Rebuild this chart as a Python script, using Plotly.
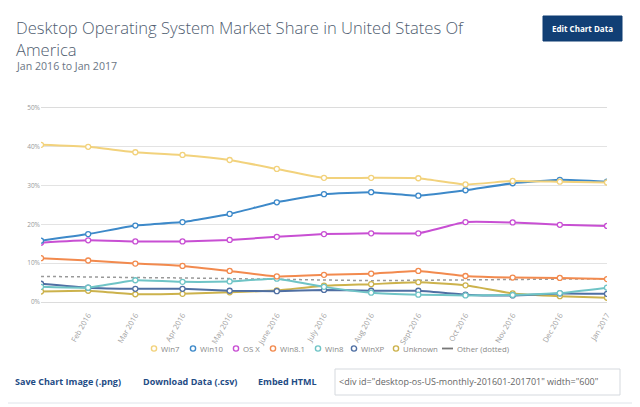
import plotly.graph_objects as go

months = ["Jan 2016", "Feb 2016", "Mar 2016", "Apr 2016", "May 2016", "June 2016", "July 2016",
          "Aug 2016", "Sept 2016", "Oct 2016", "Nov 2016", "Dec 2016", "Jan 2017"]
win7 = [40.5, 40.0, 38.6, 37.9, 36.6, 34.3, 32.0, 32.0, 31.9, 30.3, 31.2, 31.0, 30.8]
win10 = [15.8, 17.5, 19.7, 20.6, 22.7, 25.7, 27.8, 28.3, 27.4, 28.8, 30.6, 31.5, 31.0]
osx = [15.3, 15.9, 15.6, 15.6, 16.0, 16.8, 17.5, 17.7, 17.7, 20.6, 20.5, 19.9, 19.6]
win81 = [11.3, 10.7, 9.9, 9.3, 8.0, 6.6, 7.0, 7.3, 8.0, 6.7, 6.3, 6.2, 5.9]
win8 = [3.9, 3.7, 5.6, 5.2, 5.3, 6.0, 3.9, 2.4, 1.9, 1.7, 1.8, 2.3, 3.7]
winxp = [4.7, 3.7, 3.4, 3.4, 2.9, 2.8, 3.1, 2.9, 2.9, 1.9, 1.7, 2.2, 2.1]
unknown = [2.7, 2.9, 2.0, 2.1, 2.5, 3.0, 4.2, 4.6, 5.1, 4.3, 2.2, 1.5, 1.1]
other = [6.6, 6.4, 6.3, 6.2, 6.0, 5.8, 5.6, 5.5, 5.6, 5.7, 5.9, 6.0, 6.0]
y_ticks = [0, 10, 20, 30, 40, 50]
y_tick_labels = ["0%", "10%", "20%", "30%", "40%", "50%"]

series_names = ["Win7", "Win10", "OS X", "Win8.1", "Win8", "WinXP", "Unknown"]
series_values = [win7, win10, osx, win81, win8, winxp, unknown]
series_colors = ["#f2d27c", "#3d89c9", "#c84fd3", "#f28a4e", "#6fc4c6", "#4f6fa3", "#ccb24c"]
other_name = "Other (dotted)"
other_color = "#999999"

# page is rendered with an 8px body margin; figure is sized/positioned to compensate
OFF = 8
PW, PH = 640, 407
W, H = PW - OFF, PH - OFF
L, R, T, B = 41, 607, 108, 302  # plot area in page pixels


def px(x):
    return (x - L) / (R - L)


def py(y):
    return (B - y) / (B - T)


idx = list(range(len(months)))
fig = go.Figure()

fig.add_trace(go.Scatter(x=idx, y=other, mode="lines", name=other_name, showlegend=False,
                         line=dict(color=other_color, width=1.5, dash="dot")))
for name, vals, col in reversed(list(zip(series_names, series_values, series_colors))):
    fig.add_trace(go.Scatter(x=idx, y=vals, mode="lines+markers", name=name, showlegend=False,
                             line=dict(color=col, width=2, shape="spline", smoothing=0.4),
                             marker=dict(symbol="circle", size=5, color="white",
                                         line=dict(color=col, width=1.3))))

shapes = [
    dict(type="rect", xref="paper", yref="paper", x0=px(3), x1=px(636), y0=py(4), y1=py(403),
         line=dict(color="#dfe4ea", width=1), fillcolor="rgba(0,0,0,0)", layer="below"),
    dict(type="rect", xref="paper", yref="paper", x0=px(543), x1=px(622), y0=py(16), y1=py(41),
         line=dict(color="#0f3d73", width=1), fillcolor="#113f75"),
    dict(type="rect", xref="paper", yref="paper", x0=px(335), x1=px(620), y0=py(369), y1=py(395),
         line=dict(color="#d5d9de", width=1), fillcolor="white"),
]

annotations = [
    dict(text="Desktop Operating System Market Share in United States Of<br>America",
         x=px(14), y=py(13.5), xref="paper", yref="paper", xanchor="left", yanchor="top",
         align="left", showarrow=False,
         font=dict(family="Open Sans", size=16.6, color="#4f5d70", weight=300)),
    dict(text="Jan 2016 to Jan 2017", x=px(14), y=py(66), xref="paper", yref="paper",
         xanchor="left", yanchor="middle", showarrow=False,
         font=dict(family="Open Sans", size=10.6, color="#6b7685")),
    dict(text="<b>Edit Chart Data</b>", x=px(582.5), y=py(28.5), xref="paper", yref="paper",
         xanchor="center", yanchor="middle", showarrow=False,
         font=dict(family="Open Sans", size=8, color="white")),
    dict(text="<b>Save Chart Image (.png)</b>", x=px(13), y=py(381), xref="paper", yref="paper",
         xanchor="left", yanchor="middle", showarrow=False,
         font=dict(family="Open Sans", size=9, color="#1f4c85")),
    dict(text="<b>Download Data (.csv)</b>", x=px(141), y=py(381), xref="paper", yref="paper",
         xanchor="left", yanchor="middle", showarrow=False,
         font=dict(family="Open Sans", size=9, color="#1f4c85")),
    dict(text="<b>Embed HTML</b>", x=px(256), y=py(381), xref="paper", yref="paper",
         xanchor="left", yanchor="middle", showarrow=False,
         font=dict(family="Open Sans", size=9, color="#1f4c85")),
    dict(text='&lt;div id="desktop-os-US-monthly-201601-201701" width="600"', x=px(337), y=py(381),
         xref="paper", yref="paper", xanchor="left", yanchor="middle", showarrow=False,
         font=dict(family="Open Sans", size=9, color="#666666")),
]

# compact legend (symbol + label), laid out like the original's legend row
legend_marker_x = [154, 193, 236, 273, 318, 354, 396]
legend_y = 348.5
legend_font = dict(family="Open Sans", size=7.8, color="#888888")
for name, col, lx in zip(series_names, series_colors, legend_marker_x):
    shapes.append(dict(type="circle", xref="paper", yref="paper", xsizemode="pixel",
                       ysizemode="pixel", xanchor=px(lx), yanchor=py(legend_y),
                       x0=-2.6, x1=2.6, y0=-2.6, y1=2.6,
                       line=dict(color=col, width=1.4), fillcolor="white"))
    annotations.append(dict(text=name, x=px(lx + 5), y=py(legend_y), xref="paper", yref="paper",
                            xanchor="left", yanchor="middle", showarrow=False, font=legend_font))
shapes.append(dict(type="line", xref="paper", yref="paper", x0=px(442), x1=px(453),
                   y0=py(legend_y), y1=py(legend_y), line=dict(color="#777777", width=1.8)))
annotations.append(dict(text=other_name, x=px(455), y=py(legend_y), xref="paper", yref="paper",
                        xanchor="left", yanchor="middle", showarrow=False, font=legend_font))

fig.update_layout(
    width=W, height=H,
    margin=dict(l=L - OFF, r=PW - R, t=T - OFF, b=PH - B, pad=0, autoexpand=False),
    paper_bgcolor="white", plot_bgcolor="white",
    hovermode=False, showlegend=False,
    shapes=shapes, annotations=annotations,
    font=dict(family="Open Sans", color="#888888"),
    xaxis=dict(range=[0, 12], tickvals=idx[1:], ticktext=months[1:], tickangle=-60,
               tickfont=dict(size=7.5, color="#a0a0a0"), showgrid=False, zeroline=False,
               showline=True, mirror=True, linecolor="#dcdcdc", linewidth=1, ticks="",
               ticklabelstandoff=5, automargin=False),
    yaxis=dict(range=[0, 50], tickvals=y_ticks, ticktext=y_tick_labels,
               tickfont=dict(size=6.5, color="#999999"), showgrid=True, gridcolor="#e3e3e3",
               zeroline=False, showline=False, ticks="", automargin=False),
)

fig.write_html("out.html")
